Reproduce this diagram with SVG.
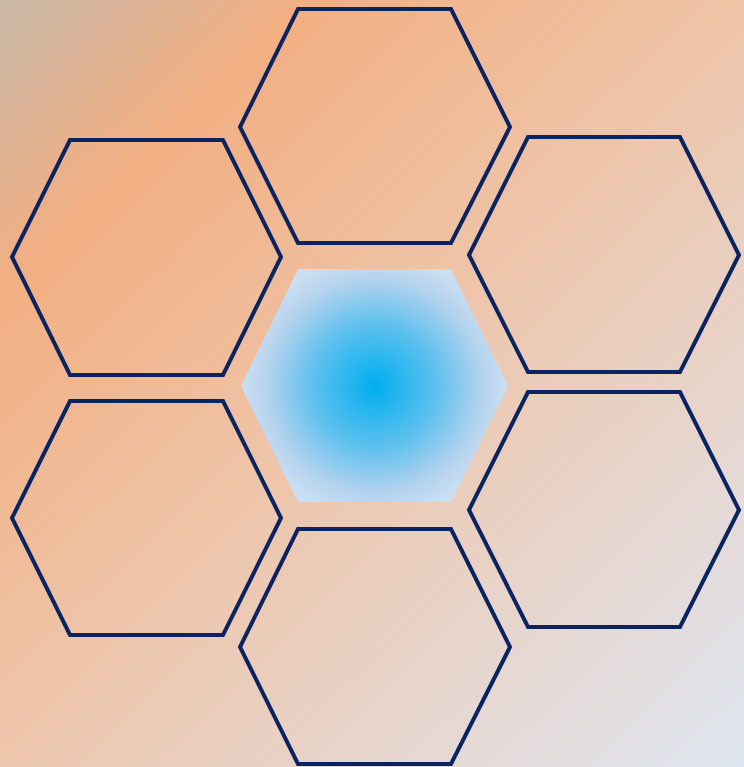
<svg xmlns="http://www.w3.org/2000/svg" width="744" height="767" viewBox="0 0 744 767">
<defs>
<linearGradient id="bg" x1="0" y1="0" x2="744" y2="767" gradientUnits="userSpaceOnUse">
<stop offset="0" stop-color="#c8b7a6"/>
<stop offset="0.2" stop-color="#f2af82"/>
<stop offset="0.5" stop-color="#eec5aa"/>
<stop offset="1" stop-color="#dfe6f1"/>
</linearGradient>
<radialGradient id="core" cx="375" cy="386" r="135" gradientUnits="userSpaceOnUse">
<stop offset="0" stop-color="#00aeef"/>
<stop offset="0.45" stop-color="#5cc0ee"/>
<stop offset="0.8" stop-color="#b5d3ee"/>
<stop offset="1" stop-color="#cde0f2"/>
</radialGradient>
<style>
.hex{fill:none;stroke:#0a2361;stroke-width:4;stroke-linejoin:miter}
</style>
</defs>
<rect width="744" height="767" fill="url(#bg)"/>
<g id="center"><polygon points="298,269 451,269 508,386 451,502 298,502 241,386" fill="url(#core)"/></g>
<g id="top"><polygon class="hex" points="298,9 451,9 510,127 451,243 298,243 240,127"/></g>
<g id="upper-left"><polygon class="hex" points="70,140 223,140 281,257 223,375 70,375 12,257"/></g>
<g id="upper-right"><polygon class="hex" points="528,137 680,137 739,255 680,372 528,372 469,255"/></g>
<g id="lower-left"><polygon class="hex" points="70,401 223,401 281,518 223,635 70,635 12,518"/></g>
<g id="lower-right"><polygon class="hex" points="528,392 680,392 739,510 680,627 528,627 469,510"/></g>
<g id="bottom"><polygon class="hex" points="298,529 451,529 510,647 451,764 298,764 240,647"/></g>
<g id="connectors"/>
</svg>
